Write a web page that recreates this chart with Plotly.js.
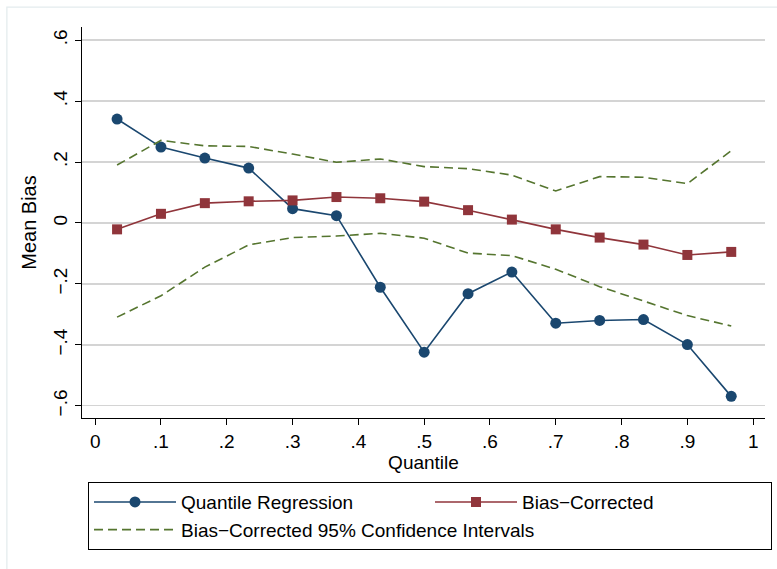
<!DOCTYPE html>
<html>
<head>
<meta charset="utf-8">
<script src="https://cdn.plot.ly/plotly-3.0.1.min.js"></script>
<style>
  html, body { margin: 0; padding: 0; background: #ffffff; }
  #chart { width: 777px; height: 569px; }
</style>
</head>
<body>
<div id="chart"></div>
<script>
// Quantile levels
var quantiles = [0.0333, 0.1, 0.1667, 0.2333, 0.3, 0.3667, 0.4333, 0.5, 0.5667, 0.6333, 0.7, 0.7667, 0.8333, 0.9, 0.9667];

// Mean bias: quantile regression
var quantileRegression = [0.341, 0.249, 0.213, 0.180, 0.047, 0.024, -0.211, -0.424, -0.232, -0.161, -0.329, -0.320, -0.317, -0.399, -0.569];

// Mean bias: bias-corrected estimator
var biasCorrected = [-0.021, 0.030, 0.065, 0.071, 0.074, 0.085, 0.081, 0.070, 0.042, 0.011, -0.021, -0.048, -0.071, -0.105, -0.095];

// Bias-corrected 95% confidence interval bounds
var ciUpper = [0.190, 0.271, 0.253, 0.251, 0.226, 0.199, 0.210, 0.185, 0.178, 0.157, 0.105, 0.152, 0.150, 0.129, 0.237];
var ciLower = [-0.309, -0.239, -0.145, -0.072, -0.048, -0.043, -0.034, -0.050, -0.099, -0.107, -0.152, -0.209, -0.256, -0.304, -0.338];

// Tick labels
var xTickVals = [0, 0.1, 0.2, 0.3, 0.4, 0.5, 0.6, 0.7, 0.8, 0.9, 1];
var xTickText = ["0", ".1", ".2", ".3", ".4", ".5", ".6", ".7", ".8", ".9", "1"];
var yTickVals = [-0.6, -0.4, -0.2, 0, 0.2, 0.4, 0.6];
var yTickText = ["\u2212.6", "\u2212.4", "\u2212.2", "0", ".2", ".4", ".6"];

var FONT = "Liberation Sans, Arial, Helvetica, sans-serif";
var navy = "#1a476f", maroon = "#90353b", green = "#55752f";

var traces = [
  {
    x: quantiles, y: quantileRegression, name: "Quantile Regression",
    type: "scatter", mode: "lines+markers",
    line: { color: navy, width: 1.6 },
    marker: { color: navy, symbol: "circle", size: 11 },
    legendrank: 1
  },
  {
    x: quantiles, y: biasCorrected, name: "Bias\u2212Corrected",
    type: "scatter", mode: "lines+markers",
    line: { color: maroon, width: 1.6 },
    marker: { color: maroon, symbol: "square", size: 10 },
    legendrank: 2
  },
  {
    x: quantiles, y: ciUpper, name: "Bias\u2212Corrected 95% Confidence Intervals",
    type: "scatter", mode: "lines", legendgroup: "ci",
    line: { color: green, width: 1.6, dash: "9px,5px" },
    legendrank: 3
  },
  {
    x: quantiles, y: ciLower, name: "Bias\u2212Corrected 95% Confidence Intervals",
    type: "scatter", mode: "lines", legendgroup: "ci", showlegend: false,
    line: { color: green, width: 1.6, dash: "9px,5px" }
  }
];

var layout = {
  width: 777, height: 569,
  margin: { l: 82, r: 12, t: 27, b: 151, autoexpand: false },
  paper_bgcolor: "#ffffff",
  plot_bgcolor: "#ffffff",
  font: { family: FONT, size: 19, color: "#000000" },
  showlegend: true,
  xaxis: {
    range: [-0.02, 1.018],
    tickvals: xTickVals, ticktext: xTickText,
    ticks: "outside", ticklen: 6, tickcolor: "#000000", tickwidth: 1,
    showline: true, linecolor: "#000000", linewidth: 1.3,
    showgrid: false, zeroline: false,
    tickfont: { family: FONT, size: 19 },
    title: { text: "Quantile", font: { family: FONT, size: 19 }, standoff: 4 }
  },
  yaxis: {
    range: [-0.64, 0.643],
    tickvals: yTickVals, ticktext: yTickText,
    tickangle: -90,
    ticks: "outside", ticklen: 6, tickcolor: "#000000", tickwidth: 1,
    showline: true, linecolor: "#000000", linewidth: 1.3,
    showgrid: true, gridcolor: "#d4d4d4", gridwidth: 1.3,
    zeroline: false,
    tickfont: { family: FONT, size: 19 },
    title: { text: "Mean Bias", font: { family: FONT, size: 20 }, standoff: 8 }
  },
  legend: {
    orientation: "h",
    x: 0.0088, xanchor: "left",
    y: -0.164, yanchor: "top",
    bgcolor: "#ffffff",
    bordercolor: "#000000", borderwidth: 1,
    font: { family: FONT, size: 19 },
    itemwidth: 82,
    entrywidth: 244,
    traceorder: "normal",
    tracegroupgap: 0
  },
  shapes: [
    {
      type: "rect", xref: "paper", yref: "paper",
      x0: -0.110, x1: 1.2, y0: -0.5, y1: 1.051,
      line: { color: "#e4ecee", width: 1.3 },
      fillcolor: "rgba(0,0,0,0)", layer: "below"
    }
  ]
};

Plotly.newPlot("chart", traces, layout, { displayModeBar: false, staticPlot: true });
</script>
</body>
</html>
